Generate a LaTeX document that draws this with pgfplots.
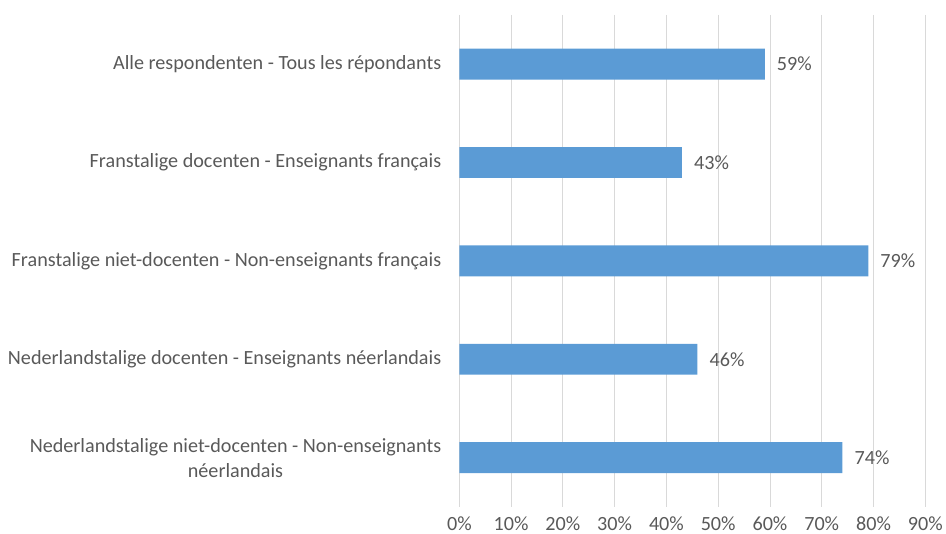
\documentclass[border=0pt]{standalone}
\usepackage{pgfplots}
\pgfplotsset{compat=1.18}
\usepackage{fontspec}
\setmainfont{Carlito}
\definecolor{barblue}{HTML}{5B9BD5}
\definecolor{txt}{HTML}{595959}
\definecolor{gridc}{HTML}{D9D9D9}
\begin{document}
\begin{tikzpicture}[font=\fontsize{20.2}{25}\selectfont]
\begin{axis}[
  name=ax,
  xbar,
  scale only axis,
  width=467pt, height=493pt,
  xmin=0, xmax=90, ymin=-0.5, ymax=4.5,
  y dir=reverse,
  bar width=31pt,
  axis line style={draw=none},
  xmajorgrids,
  grid style={gridc, line width=0.9pt},
  xtick={0,10,...,90},
  xticklabel={\pgfmathprintnumber{\tick}\%},
  xticklabel style={yshift=-6pt},
  ytick={0,1,2,3,4},
  yticklabels={Alle respondenten - Tous les répondants,
    Franstalige docenten - Enseignants français,
    Franstalige niet-docenten - Non-enseignants français,
    Nederlandstalige docenten - Enseignants néerlandais,
    {Nederlandstalige niet-docenten - Non-enseignants\\néerlandais}},
  yticklabel style={align=center, inner sep=0pt, xshift=-18pt},
  major tick length=0pt,
  tick label style={text=txt},
  /pgf/number format/assume math mode=true,
  nodes near coords={\pgfmathprintnumber{\pgfplotspointmeta}\%},
  nodes near coords style={text=txt, anchor=west, inner sep=0pt, xshift=12pt},
  point meta=explicit,
]
\addplot[fill=barblue, draw=none] coordinates {
  (59,0) [59]
  (43,1) [43]
  (79,2) [79]
  (46,3) [46]
  (74,4) [74]
};
\end{axis}
\path (ax.north west) -- ++(0,15pt);
\path (current bounding box.south west) -- ++(-8pt,0);
\end{tikzpicture}
\end{document}
